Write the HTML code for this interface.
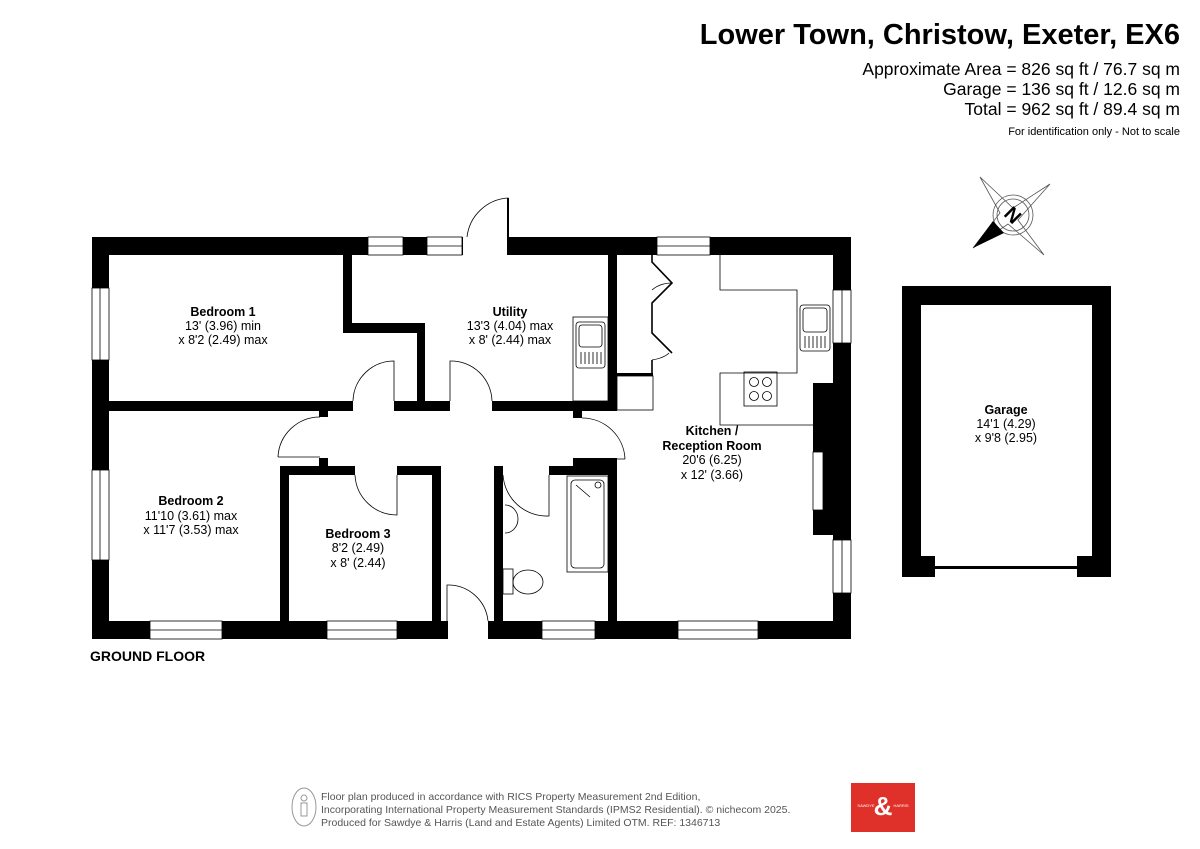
<!DOCTYPE html>
<html><head><meta charset="utf-8"><style>
html,body{margin:0;padding:0;background:#fff}
svg{display:block}
text{font-family:"Liberation Sans",Arial,sans-serif}
</style></head><body>
<svg width="1200" height="849" viewBox="0 0 1200 849" xmlns="http://www.w3.org/2000/svg">
<text x="1180" y="44" text-anchor="end" font-size="29" font-weight="bold" fill="#000">Lower Town, Christow, Exeter, EX6</text>
<text x="1180" y="75" text-anchor="end" font-size="17.5" fill="#000">Approximate Area = 826 sq ft / 76.7 sq m</text>
<text x="1180" y="95" text-anchor="end" font-size="17.5" fill="#000">Garage = 136 sq ft / 12.6 sq m</text>
<text x="1180" y="115" text-anchor="end" font-size="17.5" fill="#000">Total = 962 sq ft / 89.4 sq m</text>
<text x="1180" y="135" text-anchor="end" font-size="11" fill="#000">For identification only - Not to scale</text>

<!-- compass -->
<g stroke="#555" stroke-width="0.8" fill="none">
<polygon points="980,177 1013,208 1050,184 1018,220 1044,255 1008,224 973,248 1000,213"/>
<circle cx="1013" cy="215" r="20"/><circle cx="1013" cy="215" r="16"/>
</g>
<polygon points="973,248 993,221 1004,233" fill="#000"/>
<text x="1013" y="222" text-anchor="middle" font-size="20" font-weight="bold" transform="rotate(45 1013 215)">N</text>

<g fill="#000">
<rect x="92" y="237" width="759" height="18"/>
<rect x="92" y="237" width="17" height="402"/>
<rect x="92" y="621" width="759" height="18"/>
<rect x="833" y="237" width="18" height="402"/>
<rect x="813" y="383" width="20" height="152"/>
<rect x="343" y="255" width="9" height="78"/>
<rect x="343" y="323" width="82" height="10"/>
<rect x="417" y="323" width="8" height="87"/>
<rect x="109" y="401" width="244" height="10"/>
<rect x="394" y="401" width="56" height="10"/>
<rect x="492" y="401" width="125" height="10"/>
<rect x="608" y="255" width="9" height="155"/>
<rect x="319" y="410" width="9" height="7"/>
<rect x="319" y="458" width="9" height="9"/>
<rect x="280" y="466" width="75" height="9"/>
<rect x="397" y="466" width="44" height="9"/>
<rect x="280" y="466" width="9" height="160"/>
<rect x="432" y="466" width="9" height="160"/>
<rect x="494" y="466" width="9" height="160"/>
<rect x="549" y="466" width="68" height="9"/>
<rect x="608" y="458" width="9" height="168"/>
<rect x="573" y="410" width="9" height="8"/>
<rect x="573" y="458" width="44" height="9"/>
<rect x="617" y="373" width="36" height="3"/>
<rect x="902" y="286" width="209" height="19"/>
<rect x="902" y="286" width="19" height="290"/>
<rect x="1092" y="286" width="19" height="290"/>
<rect x="902" y="556" width="33" height="21"/>
<rect x="1077" y="556" width="34" height="21"/>
<rect x="935" y="566" width="142" height="3"/>
</g>

<g fill="#fff" stroke="#000" stroke-width="0.8">
<rect x="368" y="237" width="35" height="18"/><line x1="368" y1="246" x2="403" y2="246"/>
<rect x="427" y="237" width="35" height="18"/><line x1="427" y1="246" x2="462" y2="246"/>
<rect x="657" y="237" width="53" height="18"/><line x1="657" y1="246" x2="710" y2="246"/>
<rect x="92" y="288" width="17" height="72"/><line x1="100" y1="288" x2="100" y2="360"/>
<rect x="92" y="470" width="17" height="90"/><line x1="100" y1="470" x2="100" y2="560"/>
<rect x="150" y="621" width="72" height="18"/><line x1="150" y1="630" x2="222" y2="630"/>
<rect x="327" y="621" width="70" height="18"/><line x1="327" y1="630" x2="397" y2="630"/>
<rect x="542" y="621" width="53" height="18"/><line x1="542" y1="630" x2="595" y2="630"/>
<rect x="678" y="621" width="80" height="18"/><line x1="678" y1="630" x2="758" y2="630"/>
<rect x="833" y="290" width="18" height="53"/><line x1="842" y1="290" x2="842" y2="343"/>
<rect x="833" y="540" width="18" height="53"/><line x1="842" y1="540" x2="842" y2="593"/>
<rect x="813" y="452" width="10" height="58"/>
</g>
<g fill="#fff">
<rect x="463" y="236" width="45" height="20"/>
<rect x="448" y="620" width="40" height="20"/>
</g>

<g fill="none" stroke="#000" stroke-width="0.8">
<path d="M508,255 V198 A44,44 0 0 0 467,237"/>
<line x1="508" y1="198" x2="508" y2="255" stroke-width="2"/>
<path d="M447,621 V585 A40,40 0 0 1 488,621"/>
<path d="M394,401 V361 A41,41 0 0 0 353,401"/>
<path d="M450,401 V361 A41,41 0 0 1 492,401"/>
<path d="M278,457 H320 M278,457 A42,42 0 0 1 320,417"/>
<path d="M397,475 V515 A42,42 0 0 1 355,475"/>
<path d="M549,475 V516 A44,44 0 0 1 503,475"/>
<path d="M582,459 H625 M582,418 A43,43 0 0 1 625,459"/>
<path d="M652,255 V262 L672,283 L652,303 V333 L672,353 M652,360 V373" stroke-width="1.6"/>
<path d="M652,290 Q660,283 672,283 M652,360 Q664,358 669,353"/>
<rect x="617" y="376" width="36" height="34"/>
<path d="M720,255 V290 H797 V373 H720 V425 H813"/>
<rect x="800" y="305" width="30" height="46" rx="3"/>
<rect x="803" y="308" width="24" height="24" rx="3"/>
<path d="M805,336 v12 M809,336 v12 M813,336 v12 M817,336 v12 M821,336 v12 M825,336 v12"/>
<rect x="744" y="372" width="33" height="34"/>
<circle cx="754" cy="382" r="4.5"/><circle cx="767" cy="382" r="4.5"/><circle cx="754" cy="396" r="4.5"/><circle cx="767" cy="396" r="4.5"/>
<rect x="573" y="317" width="35" height="84"/>
<rect x="576" y="322" width="29" height="46" rx="3"/>
<rect x="579" y="325" width="23" height="22" rx="3"/>
<path d="M581,352 v12 M585,352 v12 M589,352 v12 M593,352 v12 M597,352 v12 M601,352 v12"/>
<rect x="567" y="476" width="41" height="96"/>
<rect x="571" y="480" width="33" height="88" rx="4"/>
<line x1="576" y1="485" x2="590" y2="497"/>
<circle cx="598" cy="485" r="3"/>
<path d="M505,505 A13,14 0 0 1 505,533"/>
<rect x="503" y="569" width="10" height="25"/>
<ellipse cx="528" cy="582" rx="15" ry="12"/>
</g>

<g font-size="12.5" text-anchor="middle" fill="#000">
<text x="223" y="316" font-weight="bold">Bedroom 1</text>
<text x="223" y="330">13' (3.96) min</text>
<text x="223" y="344">x 8'2 (2.49) max</text>
<text x="510" y="316" font-weight="bold">Utility</text>
<text x="510" y="330">13'3 (4.04) max</text>
<text x="510" y="344">x 8' (2.44) max</text>
<text x="712" y="435" font-weight="bold">Kitchen /</text>
<text x="712" y="450" font-weight="bold">Reception Room</text>
<text x="712" y="464">20'6 (6.25)</text>
<text x="712" y="479">x 12' (3.66)</text>
<text x="191" y="505" font-weight="bold">Bedroom 2</text>
<text x="191" y="520">11'10 (3.61) max</text>
<text x="191" y="534">x 11'7 (3.53) max</text>
<text x="358" y="538" font-weight="bold">Bedroom 3</text>
<text x="358" y="552">8'2 (2.49)</text>
<text x="358" y="567">x 8' (2.44)</text>
<text x="1006" y="414" font-weight="bold">Garage</text>
<text x="1006" y="428">14'1 (4.29)</text>
<text x="1006" y="442">x 9'8 (2.95)</text>
</g>
<text x="90" y="661" font-size="14" font-weight="bold">GROUND FLOOR</text>

<ellipse cx="304" cy="807" rx="12" ry="19" fill="none" stroke="#999"/>
<circle cx="304" cy="798" r="3" fill="none" stroke="#999"/>
<rect x="301" y="803" width="6" height="13" fill="none" stroke="#999"/>
<g font-size="10.5" fill="#555">
<text x="321" y="800">Floor plan produced in accordance with RICS Property Measurement 2nd Edition,</text>
<text x="321" y="813">Incorporating International Property Measurement Standards (IPMS2 Residential).   © nichecom 2025.</text>
<text x="321" y="826">Produced for Sawdye &amp; Harris (Land and Estate Agents) Limited OTM.   REF:  1346713</text>
</g>
<rect x="851" y="783" width="64" height="49" fill="#e0302a"/>
<text x="883" y="815" text-anchor="middle" font-size="26" font-weight="bold" fill="#fff" font-family="Liberation Serif">&amp;</text>
<text x="866" y="807" text-anchor="middle" font-size="4" fill="#fff">SAWDYE</text>
<text x="901" y="807" text-anchor="middle" font-size="4" fill="#fff">HARRIS</text>
</svg>
</body></html>
